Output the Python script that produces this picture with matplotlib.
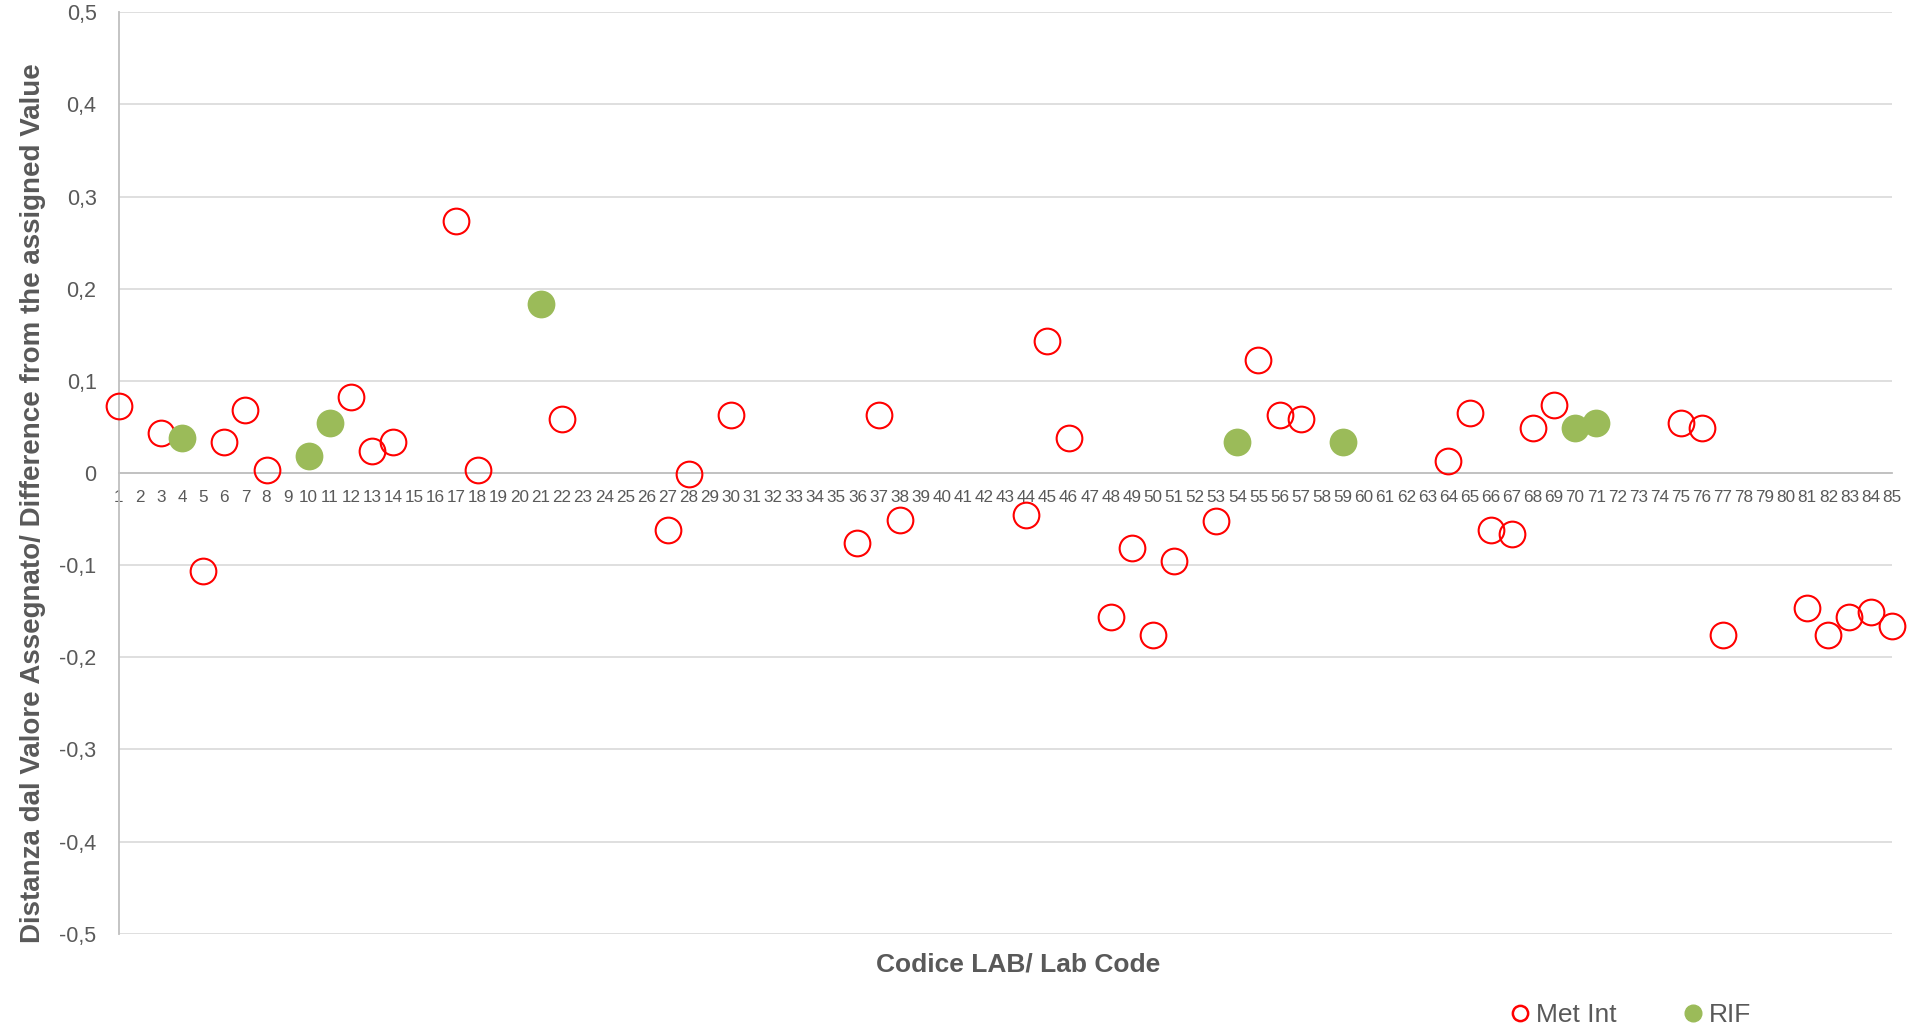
import matplotlib
matplotlib.use("Agg")
import matplotlib.pyplot as plt
from matplotlib.lines import Line2D

# ---- data ----
met_x = [1, 3, 5, 6, 7, 8, 12, 13, 14, 17, 18, 22, 27, 28, 30, 36, 37, 38, 44, 45, 46,
         48, 49, 50, 51, 53, 55, 56, 57, 64, 65, 66, 67, 68, 69, 75, 76, 77, 81, 82, 83, 84, 85]
met_y = [0.073, 0.043, -0.106, 0.034, 0.068, 0.003, 0.083, 0.024, 0.034, 0.273, 0.003, 0.059,
         -0.062, -0.001, 0.063, -0.076, 0.063, -0.051, -0.046, 0.143, 0.038,
         -0.156, -0.081, -0.176, -0.096, -0.052, 0.123, 0.063, 0.059, 0.013, 0.065, -0.062, -0.066,
         0.049, 0.0735, 0.054, 0.049, -0.176, -0.147, -0.176, -0.156, -0.151, -0.166]
rif_x = [4, 10, 11, 21, 54, 59, 70, 71]
rif_y = [0.038, 0.018, 0.054, 0.183, 0.034, 0.034, 0.049, 0.054]

lab_codes = list(range(1, 86))
y_ticks = [-0.5, -0.4, -0.3, -0.2, -0.1, 0, 0.1, 0.2, 0.3, 0.4, 0.5]
y_tick_labels = ["-0,5", "-0,4", "-0,3", "-0,2", "-0,1", "0", "0,1", "0,2", "0,3", "0,4", "0,5"]

series_names = ["Met Int", "RIF"]
x_title = "Codice LAB/ Lab Code"
y_title = "Distanza dal Valore Assegnato/ Difference from the assigned Value"

# ---- style ----
TXT = "#595959"
RED = "#FF0000"
GREEN = "#9BBB59"
plt.rcParams["font.family"] = ["Liberation Sans", "DejaVu Sans"]

fig = plt.figure(figsize=(19.22, 10.33), dpi=100)
ax = fig.add_axes([0.0618, 0.0961, 0.9224, 0.8920])

ax.set_xlim(1, 85)
ax.set_ylim(-0.5, 0.5)

ax.set_yticks(y_ticks)
ax.set_yticklabels(y_tick_labels)
ax.set_xticks(lab_codes)
ax.set_xticklabels([str(c) for c in lab_codes])

ax.yaxis.grid(True, color="#D9D9D9", linewidth=1.2, zorder=0)
ax.set_axisbelow(True)

for s in ["top", "right"]:
    ax.spines[s].set_visible(False)
ax.spines["left"].set_color("#BFBFBF")
ax.spines["left"].set_linewidth(1.3)
ax.spines["bottom"].set_position(("data", 0))
ax.spines["bottom"].set_color("#BFBFBF")
ax.spines["bottom"].set_linewidth(1.3)

ax.tick_params(axis="x", length=0, pad=12, labelsize=12.3, labelcolor=TXT)
ax.tick_params(axis="y", length=0, pad=16, labelsize=15.5, labelcolor=TXT)

ax.plot(met_x, met_y, linestyle="none", marker="o", markersize=18.5,
        markerfacecolor="none", markeredgecolor=RED, markeredgewidth=1.5,
        clip_on=False, zorder=3)
ax.plot(rif_x, rif_y, linestyle="none", marker="o", markersize=20,
        markerfacecolor=GREEN, markeredgecolor=GREEN, markeredgewidth=0,
        clip_on=False, zorder=4)

fig.text(0.5295, 1 - 965 / 1033, x_title, ha="center", va="center",
         fontsize=19, fontweight="bold", color=TXT)
fig.text(33 / 1922, 1 - 503 / 1033, y_title, ha="center", va="center",
         rotation=90, fontsize=20, fontweight="bold", color=TXT)

handles = [
    Line2D([], [], linestyle="none", marker="o", markersize=11,
           markerfacecolor="none", markeredgecolor=RED, markeredgewidth=1.8),
    Line2D([], [], linestyle="none", marker="o", markersize=12,
           markerfacecolor=GREEN, markeredgecolor=GREEN),
]
leg = fig.legend(handles, series_names, loc="center",
                 bbox_to_anchor=(1632 / 1922, 1 - 1015 / 1033), ncol=2,
                 frameon=False, fontsize=19, handlelength=0.6, handletextpad=0.3,
                 columnspacing=2.6, borderpad=0)
for t in leg.get_texts():
    t.set_color(TXT)

fig.savefig("out.png", dpi=100, facecolor="white")
